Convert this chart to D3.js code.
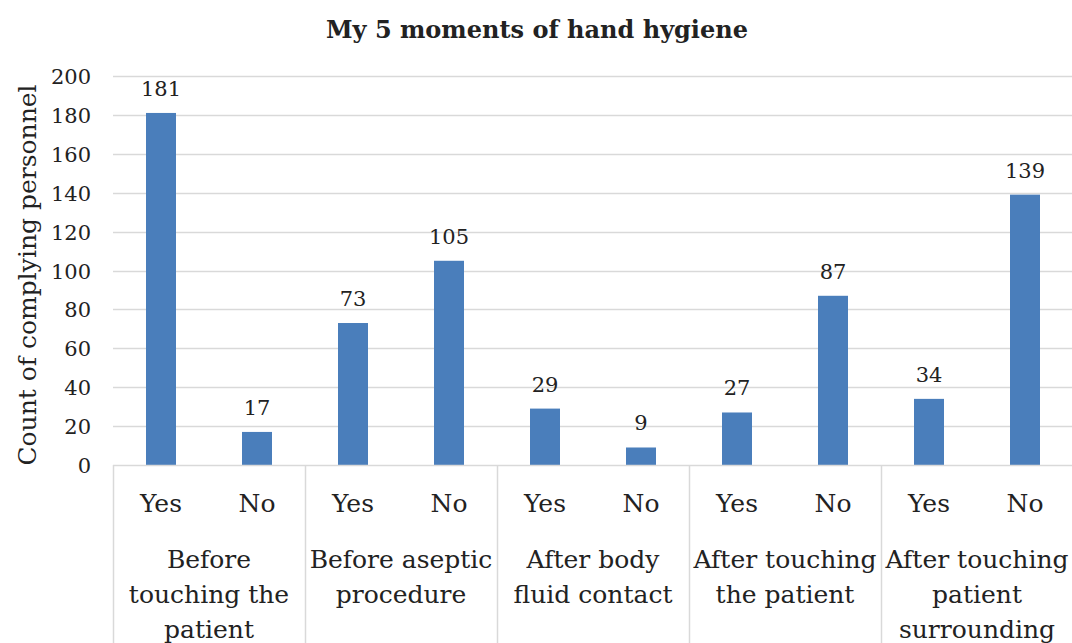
<!DOCTYPE html>
<html><head><meta charset="utf-8">
<script src="https://cdn.jsdelivr.net/npm/d3@7/dist/d3.min.js"></script>
<style>
html,body{margin:0;padding:0;background:#fff;}
svg{display:block;}
text{font-family:"DejaVu Serif",serif;fill:#222;}
</style></head><body>
<svg id="chart" width="1072" height="643"></svg>
<script>
const title = "My 5 moments of hand hygiene";
const yAxisTitle = "Count of complying personnel";
const groups = [
  ["Before", "touching the", "patient"],
  ["Before aseptic", "procedure"],
  ["After body", "fluid contact"],
  ["After touching", "the patient"],
  ["After touching", "patient", "surrounding"]
];
const answers = ["Yes", "No"];
const yesValues = [181, 73, 29, 27, 34];
const noValues = [17, 105, 9, 87, 139];
const yTicks = [0, 20, 40, 60, 80, 100, 120, 140, 160, 180, 200];

const rows = [];
groups.forEach((g, i) => {
  rows.push({key: i + "|Yes", group: i, ans: "Yes", value: yesValues[i]});
  rows.push({key: i + "|No", group: i, ans: "No", value: noValues[i]});
});

const svg = d3.select("#chart");
const pLeft = 113, pRight = 1073, pTop = 76, pBottom = 465;

const x = d3.scaleBand().domain(rows.map(d => d.key)).range([pLeft, pRight])
  .paddingInner(0.6875).paddingOuter(0.34375);
const y = d3.scaleLinear().domain([0, 200]).range([pBottom, pTop]);

// gridlines
svg.append("g").selectAll("line").data(yTicks.filter(t => t > 0)).join("line")
  .attr("x1", pLeft).attr("x2", pRight)
  .attr("y1", d => Math.round(y(d)) + 0.5).attr("y2", d => Math.round(y(d)) + 0.5)
  .attr("stroke", "#d9d9d9").attr("stroke-width", 1.5);

// y axis tick labels
const yAxis = d3.axisLeft(y).tickValues(yTicks).tickSize(0).tickPadding(22);
const yg = svg.append("g").attr("transform", `translate(${pLeft},0)`).call(yAxis);
yg.select(".domain").remove();
yg.selectAll("text").style("font-family", "DejaVu Serif, serif").style("font-size", "21px").attr("fill", "#222").attr("dy", "0.36em");

// bars
svg.append("g").selectAll("rect").data(rows).join("rect")
  .attr("x", d => x(d.key)).attr("width", x.bandwidth())
  .attr("y", d => y(d.value)).attr("height", d => y(0) - y(d.value))
  .attr("fill", "#4a7ebb");

// data labels
svg.append("g").selectAll("text").data(rows).join("text")
  .attr("x", d => x(d.key) + x.bandwidth() / 2)
  .attr("y", d => y(d.value) - 17)
  .attr("text-anchor", "middle").style("font-size", "21px")
  .text(d => d.value);

// axis line
svg.append("line").attr("x1", pLeft).attr("x2", pRight)
  .attr("y1", pBottom + 0.5).attr("y2", pBottom + 0.5)
  .attr("stroke", "#d9d9d9").attr("stroke-width", 1.5);

// group separators
const step = x.step();
const seps = d3.range(groups.length + 1).map(i => i < groups.length ? x(i + "|Yes") - x.paddingOuter() * step : pRight);
svg.append("g").selectAll("line").data(seps).join("line")
  .attr("x1", d => Math.round(d) + 0.5).attr("x2", d => Math.round(d) + 0.5)
  .attr("y1", pBottom).attr("y2", 643)
  .attr("stroke", "#d9d9d9").attr("stroke-width", 1.5);

// Yes/No labels
svg.append("g").selectAll("text").data(rows).join("text")
  .attr("x", d => x(d.key) + x.bandwidth() / 2)
  .attr("y", 512).attr("text-anchor", "middle").style("font-size", "25px")
  .text(d => d.ans);

// group labels
groups.forEach((g, i) => {
  const cx = (x(i + "|Yes") + x(i + "|No") + x.bandwidth()) / 2;
  const t = svg.append("text").attr("x", cx).attr("y", 568).attr("text-anchor", "middle").style("font-size", "25px");
  g.forEach((line, j) => {
    t.append("tspan").attr("x", cx).attr("y", 568 + j * 35).text(line);
  });
});

// title
svg.append("text").attr("x", 537).attr("y", 38).attr("text-anchor", "middle")
  .style("font-size", "24px").style("font-weight", "bold").text(title);

// y axis title
svg.append("text").attr("transform", "translate(36,275) rotate(-90)")
  .attr("text-anchor", "middle").style("font-size", "25px").text(yAxisTitle);
</script>
</body></html>
